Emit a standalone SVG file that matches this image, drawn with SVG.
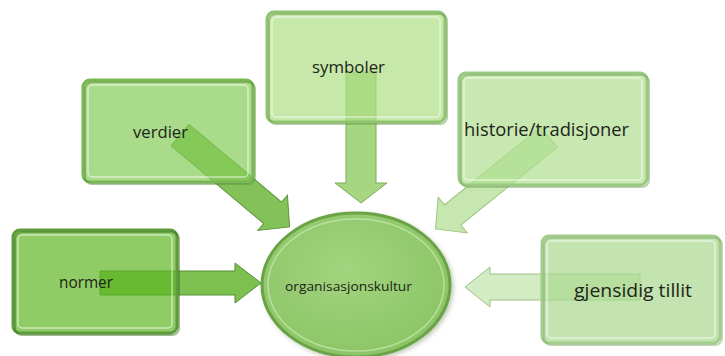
<svg xmlns="http://www.w3.org/2000/svg" width="725" height="356" viewBox="0 0 725 356">
<defs>
<filter id="sh" x="-10%" y="-10%" width="125%" height="130%">
<feDropShadow dx="2" dy="2" stdDeviation="2" flood-color="#4a6b35" flood-opacity="0.35"/>
</filter>
<radialGradient id="gCirc" cx="0.45" cy="0.4" r="0.6">
<stop offset="0" stop-color="#a3d47f"/>
<stop offset="1" stop-color="#8cc566"/>
</radialGradient>
</defs>
<style>
.lbl{font-family:"Open Sans","Liberation Sans",sans-serif;fill:#1d2418}
.box{stroke-width:3;fill-opacity:0.7}
.edge{fill:none;stroke-width:2;stroke-opacity:0.5}
.bev{fill:none;stroke:#ffffff;stroke-opacity:0.55;stroke-width:1.5}
.arr{stroke-width:1}
</style>

<g id="connectors">
<path class="arr" d="M0,-14 H121 V-23 L143,0 L121,23 V14 H0 Z" transform="translate(180,135) rotate(40)" fill="#82c258" stroke="#5b9439"/>
<path class="arr" d="M346,72 H376 V183 H387 L361,203 L335,183 H346 Z" fill="#a6d681" stroke="#79ad57"/>
<path class="arr" d="M0,-13 H124 V-23 L146,0 L124,23 V13 H0 Z" transform="translate(549,137) rotate(141)" fill="#c6e7af" stroke="#99c47f"/>
<path class="arr" d="M100,271 H235 V263 L261,283 L235,303 V295 H100 Z" fill="#7cc150" stroke="#558f34"/>
<path class="arr" d="M640,274 H490 V267 L465,287 L490,307 V300 H640 Z" fill="#d4ecc3" stroke="#9dbf8a"/>
</g>

<g id="node-symboler">
<rect class="box" x="267" y="12" width="178" height="110" rx="7" fill="#aede84" stroke="#8fc46e"/>
<rect class="edge" x="269" y="14" width="178" height="110" rx="7" stroke="#6f9c55"/>
<rect class="bev" x="272" y="17" width="168" height="100" rx="4"/>
<text class="lbl" x="312" y="73" font-size="16.5" textLength="73" lengthAdjust="spacingAndGlyphs">symboler</text>
</g>

<g id="node-verdier">
<rect class="box" x="83" y="80" width="170" height="102" rx="7" fill="#86cc59" stroke="#79b755"/>
<rect class="edge" x="85" y="82" width="170" height="102" rx="7" stroke="#5a8f3c"/>
<rect class="bev" x="88" y="85" width="160" height="92" rx="4"/>
<text class="lbl" x="133" y="138" font-size="16.5" textLength="55" lengthAdjust="spacingAndGlyphs">verdier</text>
</g>

<g id="node-historie">
<rect class="box" x="459" y="73" width="188" height="112" rx="7" fill="#afde90" stroke="#9aca82"/>
<rect class="edge" x="461" y="75" width="188" height="112" rx="7" stroke="#7aa363"/>
<rect class="bev" x="464" y="78" width="178" height="102" rx="4"/>
<text class="lbl" x="464" y="136" font-size="17.5" textLength="165" lengthAdjust="spacingAndGlyphs">historie/tradisjoner</text>
</g>

<g id="node-normer">
<rect class="box" x="13" y="230" width="164" height="103" rx="7" fill="#5fb624" stroke="#5e9b3c"/>
<rect class="edge" x="15" y="232" width="164" height="103" rx="7" stroke="#3f7325"/>
<rect class="bev" x="18" y="235" width="154" height="93" rx="4"/>
<text class="lbl" x="59" y="288" font-size="15.5" textLength="54" lengthAdjust="spacingAndGlyphs">normer</text>
</g>

<g id="node-gjensidig">
<rect class="box" x="542" y="236" width="178" height="107" rx="7" fill="#a9d88e" stroke="#a2cd8c"/>
<rect class="edge" x="544" y="238" width="178" height="107" rx="7" stroke="#86ad72"/>
<rect class="bev" x="547" y="241" width="168" height="97" rx="4"/>
<text class="lbl" x="574" y="297" font-size="18.5" textLength="118" lengthAdjust="spacingAndGlyphs">gjensidig tillit</text>
</g>

<g id="node-organisasjonskultur">
<ellipse cx="356" cy="285" rx="94" ry="72" fill="url(#gCirc)" stroke="#6aa345" stroke-width="3" filter="url(#sh)"/>
<ellipse cx="356" cy="285" rx="88" ry="66" fill="none" stroke="#c9ebb0" stroke-opacity="0.7" stroke-width="1.5"/>
<text class="lbl" x="285" y="291" font-size="13.5" textLength="127" lengthAdjust="spacingAndGlyphs">organisasjonskultur</text>
</g>
</svg>
